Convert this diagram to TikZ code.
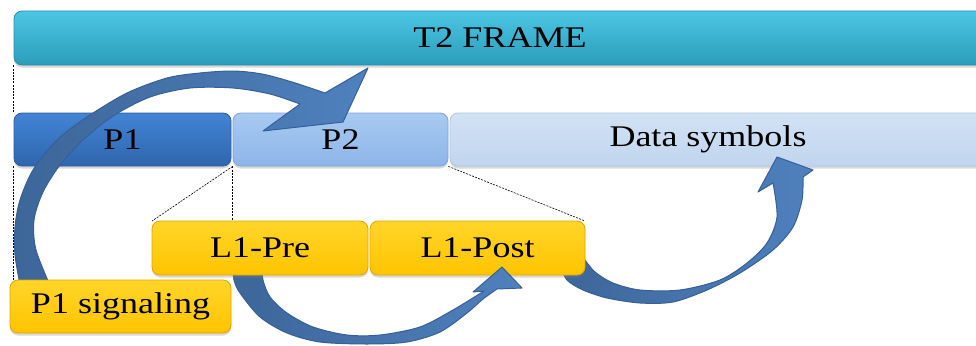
\documentclass[tikz,border=0pt]{standalone}
\usepackage{fontspec}
\setmainfont{Liberation Serif}[FakeStretch=1.2]
\usetikzlibrary{shadows}
\definecolor{tttop}{HTML}{4CC6E4}
\definecolor{ttbot}{HTML}{2A9DBA}
\definecolor{ttedge}{HTML}{2A8FAA}
\definecolor{ponetop}{HTML}{4284D4}
\definecolor{ponebot}{HTML}{2F66AE}
\definecolor{poneedge}{HTML}{2C5E9E}
\definecolor{ptwotop}{HTML}{A8CAF2}
\definecolor{ptwobot}{HTML}{8DB5E8}
\definecolor{ptwoedge}{HTML}{7FA5D6}
\definecolor{datatop}{HTML}{D2E2F5}
\definecolor{databot}{HTML}{C0D5EE}
\definecolor{dataedge}{HTML}{AFC6E2}
\definecolor{yeltop}{HTML}{FFD52A}
\definecolor{yelbot}{HTML}{FFC400}
\definecolor{yeledge}{HTML}{E0A500}
\definecolor{arrdark}{HTML}{3D6699}
\definecolor{arrlight}{HTML}{4F81BD}
\definecolor{arredge}{HTML}{36609A}
\begin{document}
\begin{tikzpicture}[x=1pt,y=-1pt,
  box/.style={rounded corners=8pt, minimum height=54pt, inner sep=0pt,
    font=\fontsize{30}{36}\selectfont, line width=0.8pt,
    drop shadow={shadow xshift=0pt, shadow yshift=-2.5pt, opacity=0.3}},
  frame/.style={box, top color=tttop, bottom color=ttbot, draw=ttedge},
  pone/.style={box, minimum height=53pt, top color=ponetop, bottom color=ponebot, draw=poneedge},
  ptwo/.style={box, minimum height=53pt, top color=ptwotop, bottom color=ptwobot, draw=ptwoedge},
  pdata/.style={box, minimum height=53pt, top color=datatop, bottom color=databot, draw=dataedge},
  yel/.style={box, top color=yeltop, bottom color=yelbot, draw=yeledge},
  guide/.style={black, line width=0.6pt, dash pattern=on 2pt off 1.2pt},
  bigarrow/.style={left color=arrdark, right color=arrlight, draw=arredge, line width=1pt, line join=round}]
\clip (0,0) rectangle (976,345);
\fill[white] (0,0) rectangle (976,345);

% bars
\node[frame, minimum width=972pt] (t2) at (500,38) {T2 FRAME};
\node[pone, minimum width=217pt] (p1) at (122.5,139.5) {P1};
\node[ptwo, minimum width=215pt] (p2) at (340.5,139.5) {P2};
\node[pdata, minimum width=540pt] (data) at (720,139.5) {Data symbols\hspace*{24pt}};

% arrow P1 signaling -> P2
\path[bigarrow] plot[smooth] coordinates {(21,290) (15,255) (15,227) (20,200) (33,170) (57,140) (87,117) (127,93) (167,78) (200,73) (233,71) (262,74) (292,82) (325,93)}
  -- (368,68) -- (343,122) -- (263,131) -- (300,104)
  -- plot[smooth] coordinates {(300,104) (270,94) (233,88) (190,88) (150,97) (113,116) (83,140) (60,165) (43,192) (34,220) (36,250) (52,290)} -- cycle;

% arrow L1-Post -> Data symbols
\path[bigarrow] plot[smooth] coordinates {(560,265) (567,280) (583,290) (607,298) (640,303) (673,302) (707,290) (740,273) (773,250) (793,227) (802,200) (803,177)}
  -- (813,170) -- (777,157) -- (758,192) -- (773,183)
  -- plot[smooth] coordinates {(773,183) (777,217) (767,243) (747,263) (720,280) (680,290) (640,290) (613,283) (595,272) (585,260)} -- cycle;

% guides
\draw[guide] (t2.south west) -- (p1.north west);
\draw[guide] (p1.south west) -- (p1.south west |- 0,280);
\draw[guide] (p2.south west) -- (p2.south west |- 0,221);
\draw[guide] (p2.south west) -- (152,221);
\draw[guide] (p2.south east) -- (585,221);

% L1 boxes
\node[yel, minimum width=215pt] (l1post) at (477.5,248) {L1-Post};

% arrow L1-Pre -> L1-Post
\path[bigarrow] plot[smooth] coordinates {(233,266) (234,280) (240,293) (260,317) (287,333) (320,342) (367,344) (407,342) (440,332) (467,313) (483,299) (497,289)}
  -- (522,288) -- (502,267) -- (473,292) -- (484,291)
  -- plot[smooth] coordinates {(484,291) (453,310) (420,327) (380,335) (347,335) (313,327) (287,313) (270,297) (263,280) (262,266)} -- cycle;

\node[yel, minimum width=216pt] (l1pre) at (260,248) {L1-Pre};
\node[yel, minimum height=53pt, minimum width=221pt] (psig) at (120.5,306.5) {P1 signaling};
\end{tikzpicture}
\end{document}
